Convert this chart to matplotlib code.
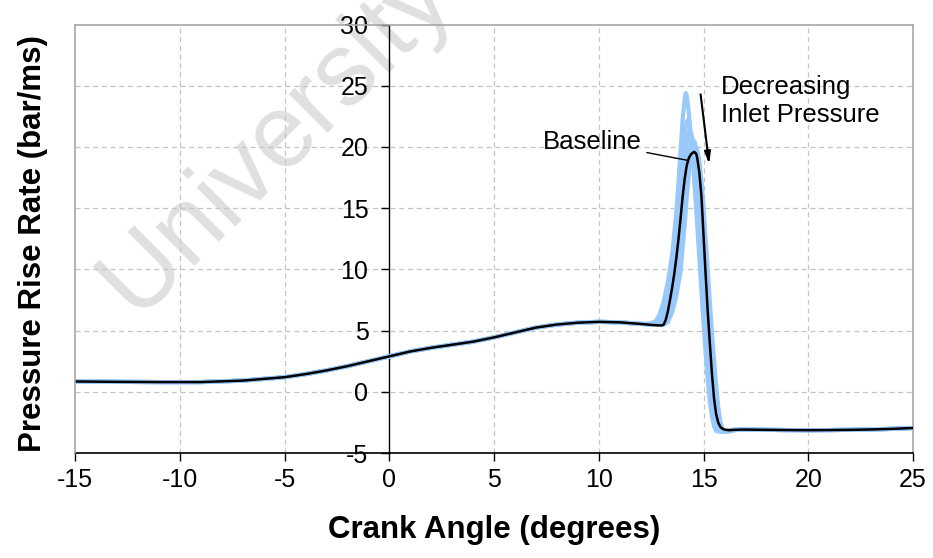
import numpy as np
import matplotlib.pyplot as plt

plt.rcParams['font.family'] = ['Liberation Sans', 'DejaVu Sans']
plt.rcParams['axes.unicode_minus'] = False

# shared part of every trace, before and after the combustion peak
ca_early = [-15, -13, -11, -9, -7, -5, -4, -3, -2, -1, 0, 1, 2, 3, 4, 5, 6, 7, 8, 9, 10, 11, 12]
prr_early = [0.85, 0.82, 0.80, 0.80, 0.92, 1.20, 1.45, 1.75, 2.10, 2.50, 2.90, 3.30, 3.60, 3.85, 4.10,
             4.45, 4.85, 5.25, 5.50, 5.65, 5.72, 5.68, 5.55]
ca_late = [16.8, 17, 18, 19, 20, 21, 22, 23, 24, 25]
prr_late = [-3.08, -3.08, -3.10, -3.12, -3.13, -3.12, -3.10, -3.07, -3.02, -2.95]

# baseline run around the peak
ca_base = [12.5, 13.0, 13.1, 13.2, 13.3, 13.4, 13.5, 13.6, 13.7, 13.8, 13.9, 14.0, 14.1, 14.2, 14.3, 14.4,
           14.5, 14.56, 14.65, 14.7, 14.8, 14.9, 15.0, 15.1, 15.2, 15.3, 15.4, 15.5, 15.6, 15.7, 15.8,
           15.9, 16.0, 16.2, 16.5]
prr_base = [5.47, 5.42, 5.50, 5.9, 6.6, 7.5, 8.5, 9.6, 10.9, 12.4, 14.1, 15.9, 17.4, 18.5, 19.1, 19.4,
            19.55, 19.6, 19.45, 19.1, 17.9, 16.0, 12.8, 9.6, 6.6, 4.0, 1.5, -0.5, -1.8, -2.5, -2.85,
            -3.0, -3.08, -3.13, -3.10]

# lower inlet pressure runs around the peak
ca_p1 = [12.4, 12.7, 12.9, 13.1, 13.3, 13.5, 13.7, 13.8, 13.9, 14.0, 14.1, 14.15, 14.2, 14.3, 14.4,
         14.5, 14.6, 14.7, 14.8, 14.9, 15.0, 15.1, 15.2, 15.3, 15.4, 15.5, 15.6, 15.8, 16.0, 16.3, 16.8]
prr_p1 = [5.55, 5.75, 6.3, 7.4, 9.0, 11.2, 14.6, 17.0, 19.6, 22.2, 23.9, 24.4, 24.2, 22.8, 20.8,
          18.6, 16.2, 13.6, 10.9, 8.2, 5.6, 3.2, 1.0, -0.8, -2.0, -2.8, -3.2, -3.25, -3.2, -3.1, -3.08]

ca_p2 = [12.4, 12.8, 13.0, 13.2, 13.4, 13.6, 13.8, 13.9, 14.0, 14.1, 14.2, 14.25, 14.3, 14.4, 14.5,
         14.6, 14.7, 14.8, 14.9, 15.0, 15.1, 15.2, 15.3, 15.4, 15.5, 15.6, 15.7, 15.9, 16.1, 16.4, 16.8]
prr_p2 = [5.55, 5.70, 6.1, 7.0, 8.6, 10.8, 14.2, 16.6, 19.0, 21.0, 22.1, 22.2, 22.0, 21.0, 19.5,
          17.6, 15.4, 13.0, 10.5, 8.0, 5.6, 3.4, 1.3, -0.6, -2.0, -2.9, -3.2, -3.25, -3.2, -3.1, -3.08]

ca_p3 = [12.4, 12.9, 13.1, 13.3, 13.5, 13.7, 13.9, 14.0, 14.1, 14.2, 14.3, 14.35, 14.4, 14.5, 14.6,
         14.7, 14.8, 14.9, 15.0, 15.1, 15.2, 15.3, 15.4, 15.5, 15.6, 15.7, 15.8, 16.0, 16.2, 16.5, 16.8]
prr_p3 = [5.55, 5.60, 6.0, 6.9, 8.4, 10.6, 14.0, 16.5, 18.8, 20.4, 21.2, 21.3, 21.2, 20.4, 19.0,
          17.2, 15.0, 12.6, 10.1, 7.6, 5.2, 3.0, 1.0, -0.8, -2.1, -2.9, -3.2, -3.25, -3.2, -3.1, -3.08]

ca_p4 = [12.4, 13.0, 13.2, 13.4, 13.6, 13.8, 14.0, 14.1, 14.2, 14.3, 14.4, 14.5, 14.55, 14.6, 14.7,
         14.8, 14.9, 15.0, 15.1, 15.2, 15.3, 15.4, 15.5, 15.6, 15.7, 15.8, 15.9, 16.1, 16.3, 16.6, 16.8]
prr_p4 = [5.50, 5.55, 5.9, 6.7, 8.0, 10.0, 13.6, 16.0, 18.2, 19.6, 20.3, 20.5, 20.5, 20.3, 19.4,
          17.8, 15.6, 13.0, 10.4, 7.8, 5.3, 3.0, 0.9, -0.9, -2.2, -2.9, -3.2, -3.25, -3.2, -3.1, -3.08]

ca_p5 = [12.4, 13.1, 13.3, 13.5, 13.7, 13.9, 14.1, 14.2, 14.3, 14.4, 14.5, 14.6, 14.65, 14.7, 14.8,
         14.9, 15.0, 15.1, 15.2, 15.3, 15.4, 15.5, 15.6, 15.7, 15.8, 15.9, 16.0, 16.2, 16.4, 16.6, 16.8]
prr_p5 = [5.50, 5.48, 5.7, 6.5, 7.8, 9.8, 13.6, 15.9, 17.8, 19.1, 19.8, 20.0, 20.0, 19.8, 18.9,
          17.3, 15.1, 12.6, 10.0, 7.4, 4.9, 2.6, 0.6, -1.2, -2.4, -3.0, -3.25, -3.25, -3.15, -3.1, -3.08]

low_pressure_runs = [(ca_p1, prr_p1), (ca_p2, prr_p2), (ca_p3, prr_p3), (ca_p4, prr_p4), (ca_p5, prr_p5)]

fig = plt.figure(figsize=(9.33, 5.58), dpi=100)
ax = fig.add_axes([0.0804, 0.188, 0.8982, 0.768])
ax.patch.set_alpha(0)

for ca_pk, prr_pk in low_pressure_runs:
    ax.plot(ca_early + ca_pk + ca_late, prr_early + prr_pk + prr_late,
            color='#99c9fb', lw=3.0, zorder=3, solid_capstyle='round')
ax.plot(ca_early + ca_base + ca_late, prr_early + prr_base + prr_late,
        color='black', lw=1.8, zorder=4)

ax.set_xlim(-15, 25)
ax.set_ylim(-5, 30)
ax.set_xticks(range(-15, 26, 5))
ax.set_yticks(range(-5, 31, 5))

# dashed grid, skipping the line that sits on the y axis
for x in [-10, -5, 5, 10, 15, 20]:
    ax.axvline(x, color='#c4c4c4', lw=0.9, ls=(0, (4, 3)), zorder=1)
for y in range(0, 30, 5):
    ax.axhline(y, color='#c4c4c4', lw=0.9, ls=(0, (4, 3)), zorder=1)

ax.spines['left'].set_position(('data', 0))
ax.spines['left'].set_color('black')
ax.spines['left'].set_linewidth(1.0)
ax.spines['bottom'].set_color('black')
ax.spines['bottom'].set_linewidth(1.2)
for s in ['top', 'right']:
    ax.spines[s].set_color('#a6a6a6')
    ax.spines[s].set_linewidth(1.2)
ax.plot([0, 0], [0, 1], transform=ax.transAxes, color='#a6a6a6', lw=1.2, clip_on=False, zorder=5)

ax.tick_params(axis='both', direction='out', length=6, width=1.0, labelsize=18)
ax.tick_params(axis='y', pad=9)
ax.tick_params(axis='x', pad=5)

ax.set_xlabel('Crank Angle (degrees)', fontsize=22.5, fontweight='bold', labelpad=16)
ax.set_ylabel('Pressure Rise Rate (bar/ms)', fontsize=22.5, fontweight='bold')
ax.yaxis.set_label_coords(-0.032, 0.49, transform=ax.transAxes)

ax.annotate('Baseline', xy=(14.27, 18.9), xytext=(9.67, 20.4), fontsize=18.5,
            ha='center', va='center',
            arrowprops=dict(arrowstyle='-', color='black', lw=1.0, shrinkA=2, shrinkB=0))
ax.annotate('', xy=(15.27, 18.6), xytext=(14.86, 24.3),
            arrowprops=dict(arrowstyle='-|>,head_length=0.7,head_width=0.18', color='black', lw=1.5,
                            shrinkA=0, shrinkB=0))
ax.text(15.83, 25.9, 'Decreasing\nInlet Pressure', fontsize=18.5, ha='left', va='top', linespacing=1.2)

# faint watermark behind the axes
fig.text(0.296, 0.75, 'University', fontsize=74, color='#e0e0e0', rotation=45,
         ha='center', va='center', zorder=-1)

fig.savefig('out.png', dpi=100)
